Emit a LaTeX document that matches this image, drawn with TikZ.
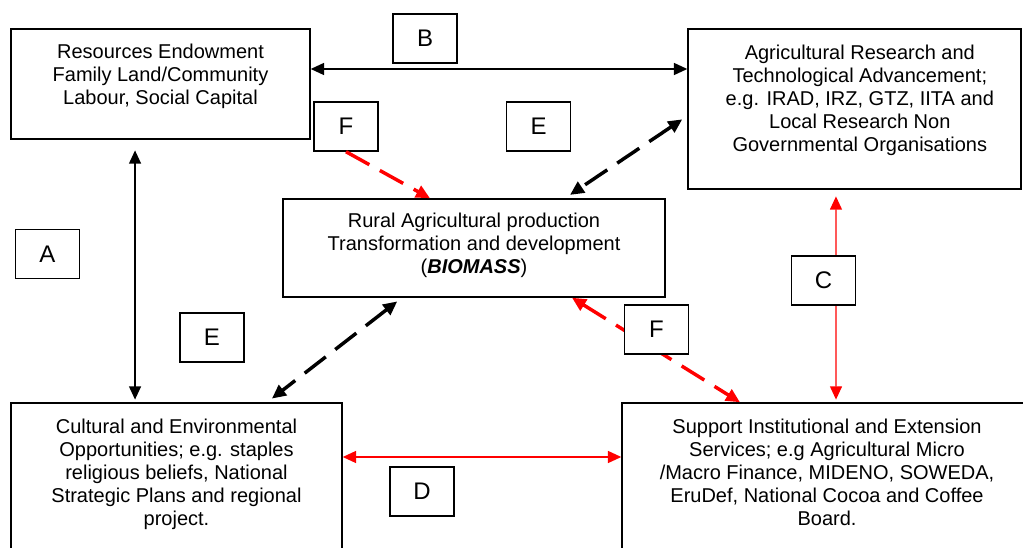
\documentclass[tikz,border=0pt]{standalone}
\usepackage{fontspec}
\setmainfont{Liberation Sans}
\usetikzlibrary{arrows.meta}
\usetikzlibrary{positioning}

\begin{document}
\begin{tikzpicture}[x=0.75pt,y=-0.75pt,
	>={Triangle[length=10pt,width=9pt]},
	block/.style={draw, line width=1.1pt, inner sep=0pt},
	txt/.style={align=center, inner sep=0pt, font=\fontsize{15}{17.25}\selectfont},
	tag/.style={draw, fill=white, line width=1.1pt, minimum width=48pt, minimum height=36.75pt, inner sep=0pt, font=\fontsize{18}{18}\selectfont},
	link/.style={line width=1.1pt},
	dashlink/.style={line width=2.6pt, dash pattern=on 20pt off 9pt, >={Triangle[length=10.5pt,width=9.5pt]}}]
					\useasboundingbox (0,0) rectangle (1023,548);
					\clip (0,0) rectangle (1023,548);
					\node[block, minimum width=224.25pt, minimum height=82.5pt] (res) at (160.5,84) {};
					\node[block, minimum width=249.75pt, minimum height=120pt] (agres) at (854.5,109) {};
					\node[block, minimum width=286.5pt, minimum height=73.5pt] (rural) at (474,248) {};
					\node[block, minimum width=248.25pt, minimum height=121.5pt] (cult) at (176.5,484) {};
					\node[block, minimum width=307.5pt, minimum height=121.5pt] (support) at (827,484) {};
					\node[txt, below=11.25pt of res.north] (res-txt) {Resources Endowment\\Family Land/Community\\Labour, Social Capital};
					\node[txt, below=12pt of agres.north, xshift=4pt] (agres-txt) {Agricultural Research and\\Technological Advancement;\\e.g. IRAD, IRZ, GTZ, IITA and\\Local Research Non\\Governmental Organisations};
					\node[txt, below=10.5pt of rural.north] (rural-txt) {Rural Agricultural production\\Transformation and development\\(\textbf{\textit{BIOMASS}})};
					\node[txt, below=12pt of cult.north] (cult-txt) {Cultural and Environmental\\Opportunities; e.g. staples\\religious beliefs, National\\Strategic Plans and regional\\project.};
					\node[txt, below=12pt of support.north] (support-txt) {Support Institutional and Extension\\Services; e.g Agricultural Micro\\/Macro Finance, MIDENO, SOWEDA,\\EruDef, National Cocoa and Coffee\\Board.};
					\draw[link, <->] ([yshift=11.25pt]res.east) -- ([yshift=30pt]agres.west);
					\draw[link, <->, shorten <=8pt, shorten >=2pt] ([xshift=-19.1pt]res.south) -- ([xshift=-31.1pt]cult.north);
					\draw[link, red, <->, shorten <=5pt, shorten >=2pt] ([xshift=-13.9pt]agres.south) -- ([xshift=6.75pt]support.north);
					\draw[link, red, <->] ([yshift=20.25pt]cult.east) -- ([yshift=20.25pt]support.west);
					\draw[dashlink, <->, shorten <=4.5pt, shorten >=4.5pt] ([yshift=-5.25pt]agres.west) -- ([xshift=68.25pt]rural.north);
					\draw[dashlink, <->, shorten <=4.5pt, shorten >=4.5pt] ([xshift=-54pt]rural.south) -- ([xshift=68pt]cult.north);
					\draw[dashlink, red, <->] ([xshift=73.5pt]rural.south) -- ([xshift=-65.25pt]support.north);
					\node[tag] (b-tag) at (425,38.5) {B};
					\node[tag] (f-top) at (346,126.5) {F};
					\node[tag] (e-top) at (538.5,126.5) {E};
					\node[tag] (a-tag) at (47.5,254) {A};
					\node[tag] (e-bot) at (212,337.5) {E};
					\node[tag] (f-bot) at (656.5,329.5) {F};
					\node[tag] (c-tag) at (823.5,280.5) {C};
					\node[tag] (d-tag) at (422,491.5) {D};
					\draw[dashlink, red, ->] (f-top.south) -- ([xshift=-33pt]rural.north);
					\end{tikzpicture}
\end{document}
